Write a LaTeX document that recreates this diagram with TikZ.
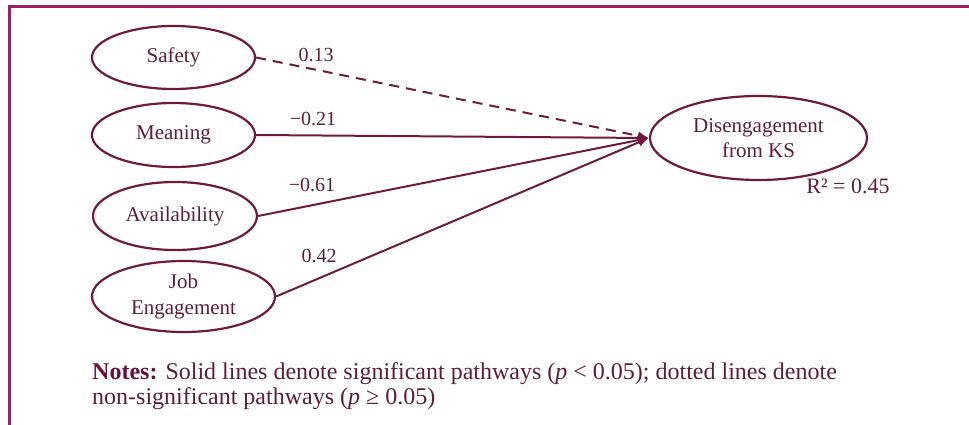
\documentclass[tikz,border=0pt]{standalone}
\usepackage{fontspec}
\setmainfont{Liberation Serif}
\usetikzlibrary{shapes.geometric,arrows.meta}
\definecolor{framec}{RGB}{160,30,100}
\definecolor{edgec}{RGB}{110,25,62}
\definecolor{txtc}{RGB}{92,28,58}
\definecolor{boldc}{RGB}{105,15,60}
\begin{document}
\begin{tikzpicture}[x=1pt,y=-1pt,
  latent/.style={ellipse, draw=edgec, line width=2.2pt, inner sep=0pt, text=txtc,
    font=\fontsize{21}{26}\selectfont, align=center},
  path/.style={draw=edgec, line width=2pt, -{Latex[length=11pt,width=9pt]}},
  coef/.style={text=txtc, font=\fontsize{20}{24}\selectfont, inner sep=0pt}
]
\useasboundingbox (0,0) rectangle (969,425);
\draw[framec, line width=3pt] (9.5,425) -- (9.5,6.3) -- (969,6.3);

\node[latent, minimum width=163pt, minimum height=63pt] (safety) at (173.5,57.5) {Safety};
\node[latent, minimum width=163pt, minimum height=64pt] (meaning) at (173.5,135) {Meaning};
\node[latent, minimum width=164pt, minimum height=68pt] (avail) at (175,216) {Availability};
\node[latent, minimum width=183pt, minimum height=71pt] (job) at (183.5,296.5) {Job\\Engagement};
\node[latent, minimum width=217pt, minimum height=84pt, font=\fontsize{21}{25}\selectfont] (dis) at (758.5,138) {Disengagement\\from KS};

\draw[path, dashed, dash pattern=on 10pt off 7pt] (safety.east) -- (dis.west);
\draw[path] (meaning.east) -- (dis.west);
\draw[path] (avail.east) -- (dis.west);
\draw[path] (job.east) -- (dis.west);

\node[coef] (c1) at (316,55) {0.13};
\node[coef] (c2) at (313,119) {−0.21};
\node[coef] (c3) at (312,185) {−0.61};
\node[coef] (c4) at (319,256) {0.42};
\node[coef, font=\fontsize{22}{24}\selectfont] (r2) at (848,186) {R² = 0.45};

\node[anchor=base west, align=left, text=txtc, inner sep=0pt,
  font=\fontsize{24}{25}\selectfont] (notes) at (92,404)
  {\textcolor{boldc}{\textbf{Notes:}} Solid lines denote significant pathways (\textit{p} < 0.05); dotted lines denote\\
   non-significant pathways (\textit{p} ≥ 0.05)};
\end{tikzpicture}
\end{document}
